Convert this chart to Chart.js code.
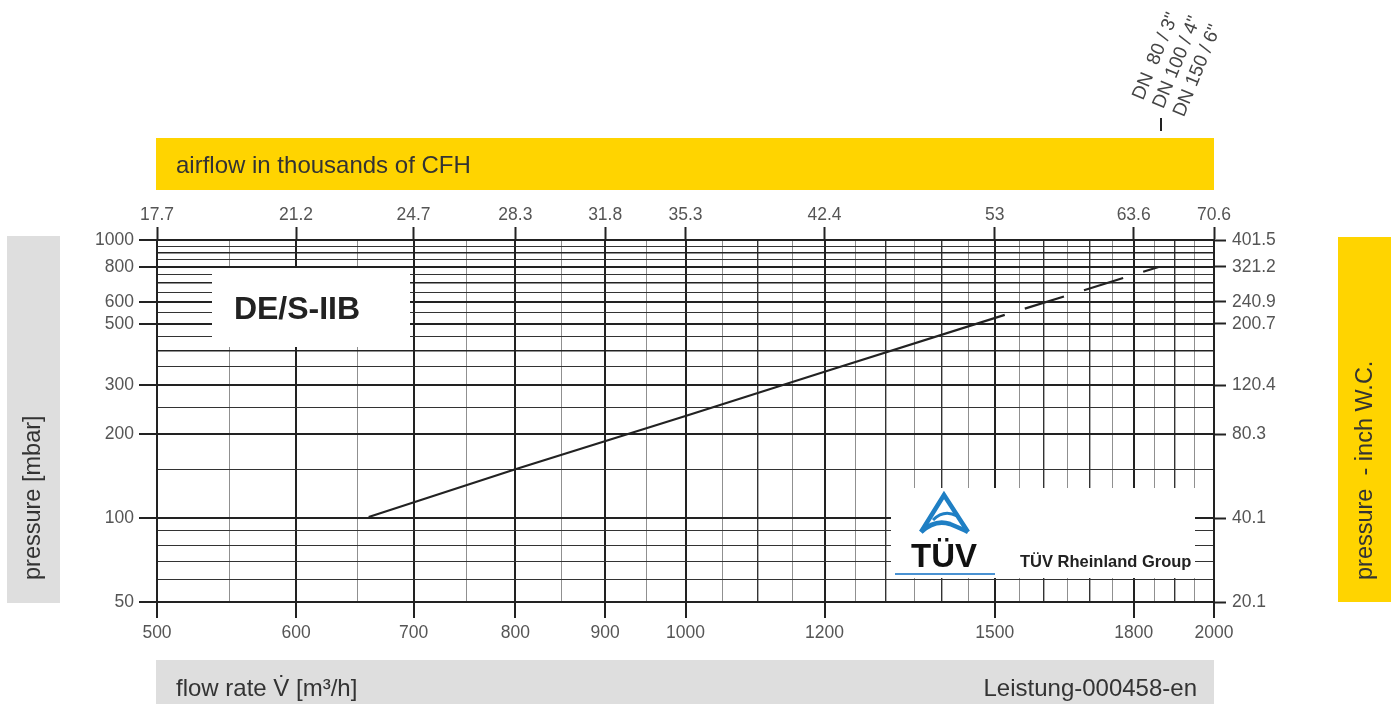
<!DOCTYPE html>
<html>
<head>
<meta charset="utf-8">
<script src="https://cdn.jsdelivr.net/npm/chart.js@4.4.1/dist/chart.umd.min.js"></script>
<style>
html, body { margin: 0; padding: 0; background: #fff; }
#wrap { width: 1392px; height: 704px; }
</style>
</head>
<body>
<div id="wrap"><canvas id="chart" width="1392" height="704"></canvas></div>
<script>
// ---- data ----
const flowTicks = [500, 600, 700, 800, 900, 1000, 1200, 1500, 1800, 2000];
const cfhLabels = ["17.7", "21.2", "24.7", "28.3", "31.8", "35.3", "42.4", "53", "63.6", "70.6"];
const pressureTicks = [50, 100, 200, 300, 500, 600, 800, 1000];
const inchLabels = ["20.1", "40.1", "80.3", "120.4", "200.7", "240.9", "321.2", "401.5"];

const flowGrid = [500, 550, 600, 650, 700, 750, 800, 850, 900, 950, 1000, 1050, 1100, 1150,
  1200, 1250, 1300, 1350, 1400, 1450, 1500, 1550, 1600, 1650, 1700, 1750, 1800, 1850,
  1900, 1950, 2000];
const pressureGrid = [50, 60, 70, 80, 90, 100, 150, 200, 250, 300, 350, 400, 450, 500,
  550, 600, 650, 700, 750, 800, 850, 900, 950, 1000];

// DE/S-IIB curve: measured part (solid) and extrapolated part (dashed)
const curveFlow = [660, 800, 1000, 1200, 1520];
const curvePressure = [101, 150, 233, 336, 538];
const dashFlow = [1520, 1860];
const dashPressure = [538, 800];

const dnLines = ["DN  80 / 3\"", "DN 100 / 4\"", "DN 150 / 6\""];

const FONT = "'Liberation Sans', Arial, sans-serif";
const YELLOW = "#FFD400";
const GREY = "#DEDEDE";

function toPoints(xs, ys) {
    return xs.map((x, i) => ({ x: x, y: ys[i] }));
}

/* ================= GRID STYLE ================= */
function flowLine(v, prop) {
    if (flowTicks.includes(v)) return prop === "c" ? "#222" : 2;
    if (v % 100 === 0) return prop === "c" ? "#333" : 1.4;
    return prop === "c" ? "#909090" : 1;
}

function pressureLine(v, prop) {
    if (pressureTicks.includes(v)) return prop === "c" ? "#222" : 2;
    if (v >= 100 && v % 100 === 0) return prop === "c" ? "#222" : 1.5;
    return prop === "c" ? "#333" : 1;
}

/* ================= DECORATION ================= */
function drawTuvLogo(ctx) {
    ctx.save();
    ctx.strokeStyle = "#1f7fc4";
    ctx.lineWidth = 4.5;
    ctx.lineJoin = "miter";
    ctx.beginPath();
    ctx.moveTo(921, 532);
    ctx.lineTo(944, 495);
    ctx.lineTo(968, 532);
    ctx.stroke();
    ctx.beginPath();
    ctx.moveTo(921, 532);
    ctx.quadraticCurveTo(935, 519, 950, 524);
    ctx.quadraticCurveTo(962, 529, 968, 532);
    ctx.stroke();
    ctx.lineWidth = 3;
    ctx.beginPath();
    ctx.moveTo(933, 520);
    ctx.quadraticCurveTo(944, 509, 957, 516);
    ctx.stroke();

    ctx.fillStyle = "#111";
    ctx.font = "bold 33px " + FONT;
    ctx.textAlign = "left";
    ctx.textBaseline = "alphabetic";
    ctx.fillText("TÜV", 911, 567);

    ctx.strokeStyle = "#4a92d2";
    ctx.lineWidth = 2;
    ctx.beginPath();
    ctx.moveTo(895, 574);
    ctx.lineTo(995, 574);
    ctx.stroke();

    ctx.fillStyle = "#222";
    ctx.font = "bold 16.5px " + FONT;
    ctx.fillText("TÜV Rheinland Group", 1020, 567);
    ctx.restore();
}

const decorations = {
    id: "decorations",
    beforeDraw(chart) {
        const ctx = chart.ctx;
        const a = chart.chartArea;
        ctx.save();

        // bands round the chart
        ctx.fillStyle = YELLOW;
        ctx.fillRect(156, 138, a.right - 156, 52);
        ctx.fillRect(1338, 237, 53, 365);
        ctx.fillStyle = GREY;
        ctx.fillRect(156, 660, a.right - 156, 44);
        ctx.fillRect(7, 236, 53, 367);

        ctx.fillStyle = "#333";
        ctx.font = "24px " + FONT;
        ctx.textBaseline = "middle";
        ctx.textAlign = "left";
        ctx.fillText("airflow in thousands of CFH", 176, 166);
        ctx.fillText("flow rate V\u0307 [m\u00b3/h]", 176, 689);
        ctx.textAlign = "right";
        ctx.fillText("Leistung-000458-en", 1197, 689);

        ctx.font = "23.5px " + FONT;
        ctx.textAlign = "left";
        ctx.save();
        ctx.translate(34, 580);
        ctx.rotate(-Math.PI / 2);
        ctx.fillText("pressure [mbar]", 0, 0);
        ctx.restore();
        ctx.save();
        ctx.translate(1366, 580);
        ctx.rotate(-Math.PI / 2);
        ctx.fillText("pressure  - inch W.C.", 0, 0);
        ctx.restore();

        // nominal size labels, slanted
        ctx.save();
        ctx.translate(1143, 101);
        ctx.rotate(-67.5 * Math.PI / 180);
        ctx.fillStyle = "#444";
        ctx.font = "19px " + FONT;
        ctx.textBaseline = "alphabetic";
        dnLines.forEach((t, i) => ctx.fillText(t, 0, i * 22));
        ctx.restore();

        ctx.strokeStyle = "#222";
        ctx.lineWidth = 2;
        ctx.beginPath();
        ctx.moveTo(1161, 118);
        ctx.lineTo(1161, 131);
        ctx.stroke();

        ctx.restore();
    },
    beforeDatasetsDraw(chart) {
        const ctx = chart.ctx;
        ctx.save();
        ctx.fillStyle = "#fff";
        ctx.fillRect(212, 268, 198, 79);
        ctx.fillRect(891, 488, 304, 90);

        ctx.fillStyle = "#222";
        ctx.font = "bold 32px " + FONT;
        ctx.textAlign = "center";
        ctx.textBaseline = "middle";
        ctx.fillText("DE/S-IIB", 297, 310);
        ctx.restore();

        drawTuvLogo(ctx);
    }
};

/* ================= CHART ================= */
const tickFont = { family: FONT, size: 17.5 };

new Chart(document.getElementById("chart"), {
    type: "line",
    data: {
        datasets: [
            {
                data: toPoints(curveFlow, curvePressure),
                borderColor: "#222",
                borderWidth: 2.2,
                pointRadius: 0,
                tension: 0,
                xAxisID: "x",
                yAxisID: "y"
            },
            {
                data: toPoints(dashFlow, dashPressure),
                borderColor: "#222",
                borderWidth: 2.2,
                borderDash: [41, 21],
                borderDashOffset: 41,
                pointRadius: 0,
                tension: 0,
                xAxisID: "x",
                yAxisID: "y"
            }
        ]
    },
    options: {
        responsive: false,
        animation: false,
        devicePixelRatio: 1,
        layout: { padding: { left: 77, right: 98, top: 200, bottom: 62 } },
        plugins: { legend: { display: false }, tooltip: { enabled: false } },
        scales: {
            x: {
                type: "logarithmic",
                position: "bottom",
                min: 500,
                max: 2000,
                afterBuildTicks: axis => { axis.ticks = flowGrid.map(v => ({ value: v })); },
                afterFit: axis => { axis.height = 40; },
                ticks: {
                    autoSkip: false, maxRotation: 0, minRotation: 0, padding: 5,
                    color: "#555", font: tickFont,
                    callback: v => flowTicks.includes(v) ? String(v) : ""
                },
                grid: {
                    color: c => c.tick ? flowLine(c.tick.value, "c") : "#222",
                    lineWidth: c => c.tick ? flowLine(c.tick.value, "w") : 1,
                    tickLength: 16,
                    tickWidth: 2,
                    tickColor: c => c.tick && flowTicks.includes(c.tick.value) ? "#222" : "rgba(0,0,0,0)"
                },
                border: { display: true, color: "#222", width: 2 }
            },
            x2: {
                type: "logarithmic",
                position: "top",
                min: 500,
                max: 2000,
                afterBuildTicks: axis => { axis.ticks = flowTicks.map(v => ({ value: v })); },
                afterFit: axis => { axis.height = 40; },
                ticks: {
                    autoSkip: false, maxRotation: 0, minRotation: 0, padding: 1,
                    color: "#555", font: tickFont,
                    callback: v => cfhLabels[flowTicks.indexOf(v)]
                },
                grid: { drawOnChartArea: false, tickLength: 13, tickWidth: 2, tickColor: "#222" },
                border: { display: true, color: "#222", width: 2 }
            },
            y: {
                type: "logarithmic",
                position: "left",
                min: 50,
                max: 1000,
                afterBuildTicks: axis => { axis.ticks = pressureGrid.map(v => ({ value: v })); },
                afterFit: axis => { axis.width = 80; },
                ticks: {
                    autoSkip: false, padding: 5, color: "#555", font: tickFont,
                    callback: v => pressureTicks.includes(v) ? String(v) : ""
                },
                grid: {
                    color: c => c.tick ? pressureLine(c.tick.value, "c") : "#222",
                    lineWidth: c => c.tick ? pressureLine(c.tick.value, "w") : 1,
                    tickLength: 18,
                    tickWidth: 2,
                    tickColor: c => c.tick && pressureTicks.includes(c.tick.value) ? "#222" : "rgba(0,0,0,0)"
                },
                border: { display: true, color: "#222", width: 2 }
            },
            y2: {
                type: "logarithmic",
                position: "right",
                min: 50,
                max: 1000,
                afterBuildTicks: axis => { axis.ticks = pressureTicks.map(v => ({ value: v })); },
                afterFit: axis => { axis.width = 80; },
                ticks: {
                    autoSkip: false, padding: 6, color: "#555", font: tickFont,
                    callback: v => inchLabels[pressureTicks.indexOf(v)]
                },
                grid: { drawOnChartArea: false, tickLength: 12, tickWidth: 2, tickColor: "#222" },
                border: { display: true, color: "#222", width: 2 }
            }
        }
    },
    plugins: [decorations]
});
</script>
</body>
</html>
